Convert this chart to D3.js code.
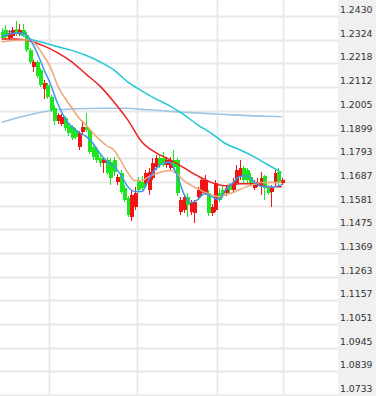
<!DOCTYPE html>
<html>
<head>
<meta charset="utf-8">
<script src="https://cdn.jsdelivr.net/npm/d3@7"></script>
<style>
html,body{margin:0;padding:0;background:#fff;}
svg{display:block;}
</style>
</head>
<body>
<svg id="chart" width="376" height="396"></svg>
<script>
// ---- data ----
const yTickLabels = ["1.2430","1.2324","1.2218","1.2112","1.2005","1.1899","1.1793","1.1687","1.1581","1.1475","1.1369","1.1263","1.1157","1.1051","1.0945","1.0839","1.0733"];

const open = [1.2358,1.2367,1.2332,1.2341,1.2372,1.2350,1.2367,1.2345,1.2278,1.2203,
1.2225,1.2189,1.2104,1.2122,1.2069,1.2019,1.1961,1.1947,1.1974,1.1938,
1.1934,1.1921,1.1845,1.1912,1.1934,1.1921,1.1845,1.1831,1.1796,1.1773,
1.1787,1.1778,1.1787,1.1688,1.1729,1.1662,1.1617,1.1532,1.1576,1.1697,
1.1688,1.1684,1.1653,1.1706,1.1755,1.1796,1.1796,1.1764,1.1751,1.1787,
1.1787,1.1554,1.1563,1.1621,1.1554,1.1550,1.1621,1.1639,1.1639,1.1639,
1.1550,1.1563,1.1639,1.1653,1.1639,1.1675,1.1653,1.1684,1.1711,1.1751,
1.1742,1.1711,1.1662,1.1675,1.1675,1.1715,1.1662,1.1644,1.1688,1.1733,
1.1684];
const close = [1.2332,1.2336,1.2354,1.2367,1.2350,1.2367,1.2345,1.2278,1.2225,1.2225,
1.2162,1.2122,1.2131,1.2069,1.2010,1.1961,1.1988,1.1979,1.1929,1.1907,
1.1885,1.1890,1.1907,1.1934,1.1921,1.1822,1.1800,1.1787,1.1773,1.1787,
1.1729,1.1706,1.1733,1.1711,1.1644,1.1608,1.1541,1.1630,1.1639,1.1653,
1.1662,1.1729,1.1733,1.1773,1.1796,1.1764,1.1764,1.1787,1.1787,1.1755,
1.1639,1.1608,1.1621,1.1585,1.1595,1.1595,1.1653,1.1697,1.1697,1.1550,
1.1576,1.1684,1.1608,1.1630,1.1662,1.1653,1.1688,1.1742,1.1751,1.1697,
1.1697,1.1684,1.1684,1.1688,1.1706,1.1662,1.1639,1.1662,1.1729,1.1684,
1.1697];
const high = [1.2376,1.2390,1.2367,1.2381,1.2408,1.2394,1.2394,1.2358,1.2287,1.2234,
1.2234,1.2198,1.2144,1.2131,1.2078,1.2033,1.1997,1.1992,1.1983,1.1947,
1.1943,1.1930,1.1916,1.1956,1.1997,1.1930,1.1858,1.1845,1.1809,1.1796,
1.1800,1.1796,1.1800,1.1724,1.1742,1.1675,1.1626,1.1653,1.1666,1.1711,
1.1715,1.1742,1.1751,1.1796,1.1809,1.1809,1.1822,1.1800,1.1800,1.1831,
1.1796,1.1621,1.1630,1.1639,1.1608,1.1608,1.1666,1.1711,1.1720,1.1653,
1.1590,1.1697,1.1662,1.1670,1.1675,1.1684,1.1706,1.1764,1.1787,1.1760,
1.1751,1.1729,1.1697,1.1706,1.1733,1.1720,1.1675,1.1675,1.1742,1.1751,
1.1706];
const low = [1.2323,1.2323,1.2323,1.2332,1.2341,1.2341,1.2336,1.2269,1.2216,1.2180,
1.2153,1.2113,1.2059,1.2059,1.2001,1.1943,1.1947,1.1938,1.1916,1.1894,
1.1876,1.1881,1.1831,1.1898,1.1912,1.1813,1.1787,1.1773,1.1755,1.1728,
1.1720,1.1675,1.1715,1.1675,1.1635,1.1595,1.1528,1.1510,1.1563,1.1639,
1.1644,1.1670,1.1630,1.1697,1.1742,1.1751,1.1755,1.1751,1.1742,1.1742,
1.1626,1.1541,1.1550,1.1532,1.1541,1.1505,1.1608,1.1626,1.1630,1.1536,
1.1536,1.1554,1.1595,1.1617,1.1626,1.1639,1.1639,1.1675,1.1697,1.1684,
1.1679,1.1670,1.1653,1.1666,1.1630,1.1608,1.1630,1.1576,1.1670,1.1675,
1.1675];

// moving-average lines, sampled at candle indices
const shortIdx = [0,2,4,6,8,10,12,14,16,18,20,22,24,26,28,30,32,34,36,38,40,42,44,46,48,50,52,54,56,58,60,62,64,66,68,70,72,74,76,78,80];
const maBlue = [1.2339,1.2348,1.2354,1.2354,1.2327,1.2269,1.2193,1.2122,1.2037,1.1974,
1.1934,1.1909,1.1892,1.1862,1.1816,1.1780,1.1758,1.1720,1.1666,1.1644,
1.1644,1.1697,1.1746,1.1769,1.1775,1.1720,1.1635,1.1594,1.1608,1.1635,
1.1621,1.1608,1.1653,1.1682,1.1711,1.1715,1.1688,1.1668,1.1666,1.1666,
1.1675];
const maOrange = [1.2314,1.2318,1.2321,1.2323,1.2323,1.2296,1.2251,1.2198,1.2117,1.2064,
1.2019,1.1974,1.1943,1.1907,1.1876,1.1849,1.1831,1.1782,1.1729,1.1693,
1.1693,1.1711,1.1724,1.1733,1.1738,1.1724,1.1693,1.1673,1.1657,1.1641,
1.1628,1.1621,1.1630,1.1639,1.1653,1.1666,1.1675,1.1684,1.1684,1.1684,
1.1688];
const longIdx = [0,4,8,12,16,20,24,28,32,36,40,44,48,52,56,60,64,68,72,76,80];
const maRed = [1.2327,1.2327,1.2318,1.2296,1.2265,1.2225,1.2171,1.2117,1.2046,1.1965,
1.1867,1.1818,1.1787,1.1751,1.1714,1.1684,1.1670,1.1679,1.1679,1.1666,1.1666];
const maCyan = [1.2363,1.2356,1.2327,1.2310,1.2292,1.2276,1.2254,1.2225,1.2189,1.2135,
1.2095,1.2059,1.2028,1.1988,1.1943,1.1903,1.1858,1.1831,1.1800,1.1764,1.1729];
const maLightBlue = [1.1954,1.1972,1.1988,1.2001,1.2010,1.2014,1.2016,1.2017,1.2017,1.2017,
1.2012,1.2008,1.2003,1.1999,1.1996,1.1992,1.1989,1.1986,1.1983,1.1981,1.1979];

// session separators (fractional candle positions)
const separatorIdx = [13.6, 38.7, 61.6, 80.3];

// ---- drawing ----
const W = 376, H = 396, plotRight = 338;
const svg = d3.select("#chart");

const x = d3.scaleLinear().domain([-0.5, 80.5]).range([0, 283.5]);
const y = d3.scaleLinear().domain([1.0733, 1.2430]).range([395, 16]);

// axis panel
svg.append("rect").attr("x", plotRight).attr("y", 0).attr("width", W - plotRight).attr("height", H).attr("fill", "#f0f0f0");

// horizontal grid
svg.append("g").selectAll("line").data(yTickLabels).join("line")
  .attr("x1", 0).attr("x2", plotRight)
  .attr("y1", d => Math.round(y(+d)) + 0.5).attr("y2", d => Math.round(y(+d)) + 0.5)
  .attr("stroke", "#e8e8e8").attr("stroke-width", 1.8);

// vertical separators
svg.append("g").selectAll("line").data(separatorIdx).join("line")
  .attr("x1", d => Math.round(x(d)) + 0.5).attr("x2", d => Math.round(x(d)) + 0.5)
  .attr("y1", 0).attr("y2", H)
  .attr("stroke", "#e8e8e8").attr("stroke-width", 1.8);

// axis labels
svg.append("g").selectAll("text").data(yTickLabels).join("text")
  .attr("x", 340).attr("y", d => y(+d) - 3)
  .attr("font-family", "DejaVu Sans, Verdana, sans-serif").attr("font-size", 9.3)
  .attr("fill", "#333").text(d => d);

// line helper
function drawMA(idx, vals, color, width) {
  const line = d3.line().x(d => x(d[0])).y(d => y(d[1])).curve(d3.curveMonotoneX);
  svg.append("path").datum(idx.map((k, i) => [k, vals[i]]))
    .attr("d", line).attr("fill", "none").attr("stroke", color).attr("stroke-width", width);
}

drawMA(longIdx, maLightBlue, "#9fc4e2", 1.6);
drawMA(longIdx, maCyan, "#22c8d8", 1.5);

// candles
const candles = open.map((o, i) => ({i, o, c: close[i], h: high[i], l: low[i]}));
const upColor = "#f01414", downColor = "#1ee61e";
const cg = svg.append("g").attr("shape-rendering", "crispEdges");
cg.selectAll("line").data(candles).join("line")
  .attr("x1", d => Math.round(x(d.i)) + 0.5).attr("x2", d => Math.round(x(d.i)) + 0.5)
  .attr("y1", d => y(d.h)).attr("y2", d => y(d.l))
  .attr("stroke", d => d.c >= d.o ? upColor : downColor).attr("stroke-width", 1);
cg.selectAll("rect").data(candles).join("rect")
  .attr("x", d => Math.round(x(d.i)) - 1).attr("width", 4)
  .attr("y", d => y(Math.max(d.o, d.c)))
  .attr("height", d => Math.max(1, Math.abs(y(d.o) - y(d.c))))
  .attr("fill", d => d.c >= d.o ? upColor : downColor);

drawMA(longIdx, maRed, "#ee2020", 1.5);
drawMA(shortIdx, maOrange, "#eea678", 1.5);
drawMA(shortIdx, maBlue, "#3d97f0", 1.5);
</script>
</body>
</html>
